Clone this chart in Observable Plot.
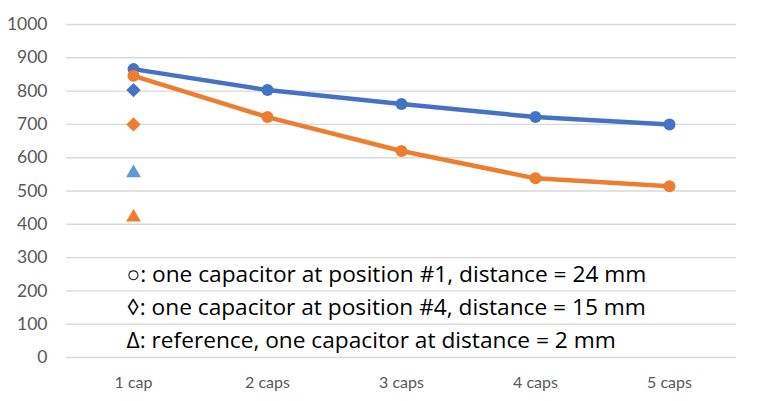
<!DOCTYPE html>
<html>
<head>
<meta charset="utf-8">
<script src="https://cdn.jsdelivr.net/npm/d3@7"></script>
<script src="https://cdn.jsdelivr.net/npm/@observablehq/plot@0.6"></script>
<style>
  html, body { margin: 0; padding: 0; background: #fff; }
</style>
</head>
<body>
<div id="chart"></div>
<script>
const categories = ["1 cap", "2 caps", "3 caps", "4 caps", "5 caps"];
const blueValues = [866, 803, 761, 722, 700];
const orangeValues = [846, 722, 620, 538, 514];
const diamondCategory = "1 cap";
const diamondBlue = 803;
const diamondOrange = 700;
const triangleBlue = 554;
const triangleOrange = 421;
const yTicks = [0, 100, 200, 300, 400, 500, 600, 700, 800, 900, 1000];
const notes = [
  { text: "○: one capacitor at position #1, distance = 24 mm", y: 250 },
  { text: "◊: one capacitor at position #4, distance = 15 mm", y: 150 },
  { text: "Δ: reference, one capacitor at distance = 2 mm", y: 50 }
];

const blue = categories.map((c, i) => ({ cat: c, v: blueValues[i] }));
const orange = categories.map((c, i) => ({ cat: c, v: orangeValues[i] }));

const chart = Plot.plot({
  width: 757,
  height: 401,
  marginLeft: 66,
  marginRight: 21,
  marginTop: 24,
  marginBottom: 44,
  style: { fontFamily: "Lato, 'Open Sans', sans-serif", background: "#fff" },
  x: { type: "point", domain: categories, padding: 0.5, label: null },
  y: { domain: [0, 1000], label: null },
  marks: [
    Plot.ruleY(yTicks, { stroke: "#D9D9D9", strokeWidth: 1.4 }),
    Plot.axisY({ ticks: yTicks, tickFormat: d => String(d), tickSize: 0, tickPadding: 19, fontSize: 17.5, fill: "#595959", label: null }),
    Plot.axisX({ tickSize: 0, tickPadding: 19, fontSize: 16, fill: "#595959", label: null }),
    Plot.line(blue, { x: "cat", y: "v", stroke: "#4472C4", strokeWidth: 4.5 }),
    Plot.line(orange, { x: "cat", y: "v", stroke: "#ED7D31", strokeWidth: 4.5 }),
    Plot.dot(blue, { x: "cat", y: "v", r: 6, fill: "#4472C4" }),
    Plot.dot(orange, { x: "cat", y: "v", r: 6, fill: "#ED7D31" }),
    Plot.dot([{ cat: diamondCategory, v: diamondBlue }], { x: "cat", y: "v", symbol: "diamond2", r: 6.5, fill: "#4472C4" }),
    Plot.dot([{ cat: diamondCategory, v: diamondOrange }], { x: "cat", y: "v", symbol: "diamond2", r: 6.5, fill: "#ED7D31" }),
    Plot.dot([{ cat: diamondCategory, v: triangleBlue }], { x: "cat", y: "v", symbol: "triangle", r: 5.5, fill: "#5B9BD5" }),
    Plot.dot([{ cat: diamondCategory, v: triangleOrange }], { x: "cat", y: "v", symbol: "triangle", r: 5.5, fill: "#ED7D31" }),
    Plot.text(notes, { x: () => categories[0], y: "y", text: "text", textAnchor: "start", dx: -7, fontSize: 22.7, fontFamily: "'Open Sans', sans-serif", fill: "#000" })
  ]
});
document.getElementById("chart").appendChild(chart);
</script>
</body>
</html>
